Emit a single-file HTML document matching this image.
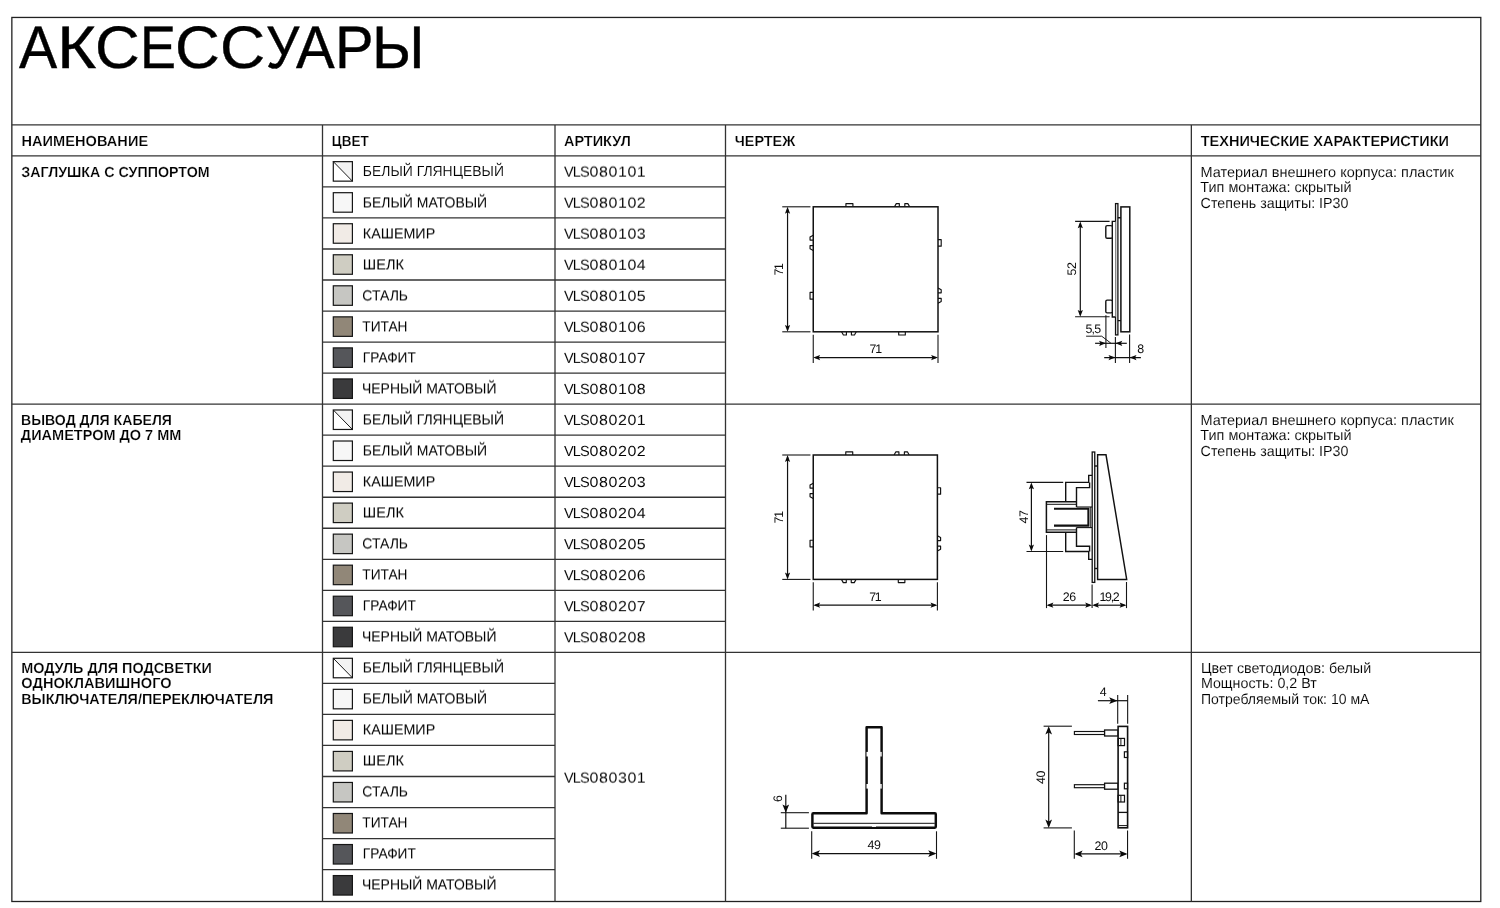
<!DOCTYPE html>
<html lang="ru">
<head>
<meta charset="utf-8">
<title>Аксессуары</title>
<style>
html,body{margin:0;padding:0;background:#fff;}
body{width:1500px;height:908px;position:relative;overflow:hidden;font-family:"Liberation Sans",sans-serif;color:#000;text-rendering:geometricPrecision;}
#page{position:absolute;left:0;top:0;width:1500px;height:908px;will-change:transform;}
#grid{position:absolute;left:0;top:0;width:1500px;height:908px;}
.t{position:absolute;white-space:pre;font-size:14.55px;line-height:16px;margin:0;padding:0;font-weight:normal;transform-origin:0 0;will-change:transform;}
.t{-webkit-text-stroke:0.1px #fff;}
.f{-webkit-text-stroke:0;}
.b{font-weight:bold;-webkit-text-stroke:0.2px #fff;}
h1.t{-webkit-text-stroke:0.4px #000;}
h1.t span,.n{display:inline-block;transform-origin:0 0;}
.art{font-size:14.55px;line-height:16px;letter-spacing:-0.8px;-webkit-text-stroke:0.04px #fff;}
.art span{display:inline-block;margin-left:1px;letter-spacing:0.5px;transform:translateX(-0.4px) scaleX(1.1);transform-origin:0 50%;}
svg text{font-family:"Liberation Sans",sans-serif;fill:#0d0d0d;}
</style>
</head>
<body>
<div id="page">
<svg id="grid" width="1500" height="908" viewBox="0 0 1500 908">
<rect x="11.85" y="17.45" width="1468.95" height="884.05" fill="none" stroke="#222222" stroke-width="1.30"/>
<line x1="11.85" y1="124.90" x2="1480.80" y2="124.90" stroke="#333333" stroke-width="1.30" />
<line x1="11.85" y1="155.90" x2="1480.80" y2="155.90" stroke="#333333" stroke-width="1.30" />
<line x1="322.50" y1="124.90" x2="322.50" y2="901.50" stroke="#333333" stroke-width="1.30" />
<line x1="555.00" y1="124.90" x2="555.00" y2="901.50" stroke="#333333" stroke-width="1.30" />
<line x1="725.50" y1="124.90" x2="725.50" y2="901.50" stroke="#333333" stroke-width="1.30" />
<line x1="1191.35" y1="124.90" x2="1191.35" y2="901.50" stroke="#333333" stroke-width="1.30" />
<line x1="322.50" y1="186.93" x2="725.50" y2="186.93" stroke="#333333" stroke-width="1.30" />
<line x1="322.50" y1="217.96" x2="725.50" y2="217.96" stroke="#333333" stroke-width="1.30" />
<line x1="322.50" y1="248.99" x2="725.50" y2="248.99" stroke="#333333" stroke-width="1.30" />
<line x1="322.50" y1="280.02" x2="725.50" y2="280.02" stroke="#333333" stroke-width="1.30" />
<line x1="322.50" y1="311.05" x2="725.50" y2="311.05" stroke="#333333" stroke-width="1.30" />
<line x1="322.50" y1="342.08" x2="725.50" y2="342.08" stroke="#333333" stroke-width="1.30" />
<line x1="322.50" y1="373.11" x2="725.50" y2="373.11" stroke="#333333" stroke-width="1.30" />
<rect x="333.30" y="161.65" width="19.10" height="19.50" fill="#ffffff" stroke="none" stroke-width="0.00"/>
<path d="M333.30 161.65 L352.40 161.65 L352.40 181.15 Z" fill="#f3f3f3" stroke="none" stroke-width="0.00" />
<line x1="333.30" y1="161.65" x2="352.40" y2="181.15" stroke="#1c1c1c" stroke-width="1.00" />
<rect x="333.30" y="161.65" width="19.10" height="19.50" fill="none" stroke="#161616" stroke-width="1.20"/>
<rect x="333.30" y="192.69" width="19.10" height="19.50" fill="#f7f7f7" stroke="#161616" stroke-width="1.20"/>
<rect x="333.30" y="223.73" width="19.10" height="19.50" fill="#f1ebe6" stroke="#161616" stroke-width="1.20"/>
<rect x="333.30" y="254.77" width="19.10" height="19.50" fill="#cfcdc2" stroke="#161616" stroke-width="1.20"/>
<rect x="333.30" y="285.81" width="19.10" height="19.50" fill="#c6c6c2" stroke="#161616" stroke-width="1.20"/>
<rect x="333.30" y="316.85" width="19.10" height="19.50" fill="#918778" stroke="#161616" stroke-width="1.20"/>
<rect x="333.30" y="347.89" width="19.10" height="19.50" fill="#55565a" stroke="#161616" stroke-width="1.20"/>
<rect x="333.30" y="378.93" width="19.10" height="19.50" fill="#3a3a3c" stroke="#161616" stroke-width="1.20"/>
<line x1="11.85" y1="404.14" x2="1480.80" y2="404.14" stroke="#333333" stroke-width="1.30" />
<line x1="322.50" y1="435.17" x2="725.50" y2="435.17" stroke="#333333" stroke-width="1.30" />
<line x1="322.50" y1="466.20" x2="725.50" y2="466.20" stroke="#333333" stroke-width="1.30" />
<line x1="322.50" y1="497.23" x2="725.50" y2="497.23" stroke="#333333" stroke-width="1.30" />
<line x1="322.50" y1="528.26" x2="725.50" y2="528.26" stroke="#333333" stroke-width="1.30" />
<line x1="322.50" y1="559.29" x2="725.50" y2="559.29" stroke="#333333" stroke-width="1.30" />
<line x1="322.50" y1="590.32" x2="725.50" y2="590.32" stroke="#333333" stroke-width="1.30" />
<line x1="322.50" y1="621.35" x2="725.50" y2="621.35" stroke="#333333" stroke-width="1.30" />
<rect x="333.30" y="409.97" width="19.10" height="19.50" fill="#ffffff" stroke="none" stroke-width="0.00"/>
<path d="M333.30 409.97 L352.40 409.97 L352.40 429.47 Z" fill="#f3f3f3" stroke="none" stroke-width="0.00" />
<line x1="333.30" y1="409.97" x2="352.40" y2="429.47" stroke="#1c1c1c" stroke-width="1.00" />
<rect x="333.30" y="409.97" width="19.10" height="19.50" fill="none" stroke="#161616" stroke-width="1.20"/>
<rect x="333.30" y="441.01" width="19.10" height="19.50" fill="#f7f7f7" stroke="#161616" stroke-width="1.20"/>
<rect x="333.30" y="472.05" width="19.10" height="19.50" fill="#f1ebe6" stroke="#161616" stroke-width="1.20"/>
<rect x="333.30" y="503.09" width="19.10" height="19.50" fill="#cfcdc2" stroke="#161616" stroke-width="1.20"/>
<rect x="333.30" y="534.13" width="19.10" height="19.50" fill="#c6c6c2" stroke="#161616" stroke-width="1.20"/>
<rect x="333.30" y="565.17" width="19.10" height="19.50" fill="#918778" stroke="#161616" stroke-width="1.20"/>
<rect x="333.30" y="596.21" width="19.10" height="19.50" fill="#55565a" stroke="#161616" stroke-width="1.20"/>
<rect x="333.30" y="627.25" width="19.10" height="19.50" fill="#3a3a3c" stroke="#161616" stroke-width="1.20"/>
<line x1="11.85" y1="652.38" x2="1480.80" y2="652.38" stroke="#333333" stroke-width="1.30" />
<line x1="322.50" y1="683.41" x2="555.00" y2="683.41" stroke="#333333" stroke-width="1.30" />
<line x1="322.50" y1="714.44" x2="555.00" y2="714.44" stroke="#333333" stroke-width="1.30" />
<line x1="322.50" y1="745.47" x2="555.00" y2="745.47" stroke="#333333" stroke-width="1.30" />
<line x1="322.50" y1="776.50" x2="555.00" y2="776.50" stroke="#333333" stroke-width="1.30" />
<line x1="322.50" y1="807.53" x2="555.00" y2="807.53" stroke="#333333" stroke-width="1.30" />
<line x1="322.50" y1="838.56" x2="555.00" y2="838.56" stroke="#333333" stroke-width="1.30" />
<line x1="322.50" y1="869.59" x2="555.00" y2="869.59" stroke="#333333" stroke-width="1.30" />
<rect x="333.30" y="658.29" width="19.10" height="19.50" fill="#ffffff" stroke="none" stroke-width="0.00"/>
<path d="M333.30 658.29 L352.40 658.29 L352.40 677.79 Z" fill="#f3f3f3" stroke="none" stroke-width="0.00" />
<line x1="333.30" y1="658.29" x2="352.40" y2="677.79" stroke="#1c1c1c" stroke-width="1.00" />
<rect x="333.30" y="658.29" width="19.10" height="19.50" fill="none" stroke="#161616" stroke-width="1.20"/>
<rect x="333.30" y="689.33" width="19.10" height="19.50" fill="#f7f7f7" stroke="#161616" stroke-width="1.20"/>
<rect x="333.30" y="720.37" width="19.10" height="19.50" fill="#f1ebe6" stroke="#161616" stroke-width="1.20"/>
<rect x="333.30" y="751.41" width="19.10" height="19.50" fill="#cfcdc2" stroke="#161616" stroke-width="1.20"/>
<rect x="333.30" y="782.45" width="19.10" height="19.50" fill="#c6c6c2" stroke="#161616" stroke-width="1.20"/>
<rect x="333.30" y="813.49" width="19.10" height="19.50" fill="#918778" stroke="#161616" stroke-width="1.20"/>
<rect x="333.30" y="844.53" width="19.10" height="19.50" fill="#55565a" stroke="#161616" stroke-width="1.20"/>
<rect x="333.30" y="875.57" width="19.10" height="19.50" fill="#3a3a3c" stroke="#161616" stroke-width="1.20"/>
<path d="M845.93 206.80 L845.93 203.60 L852.92 203.60 L852.92 206.80" fill="#fff" stroke="#111111" stroke-width="1.15" stroke-linejoin="round"/>
<path d="M894.48 206.80 L896.28 203.60 L899.33 203.60 L899.33 206.80" fill="#fff" stroke="#111111" stroke-width="1.15" stroke-linejoin="round"/>
<path d="M904.82 206.80 L904.82 203.60 L907.86 203.60 L909.66 206.80" fill="#fff" stroke="#111111" stroke-width="1.15" stroke-linejoin="round"/>
<path d="M841.59 331.80 L843.39 335.00 L846.43 335.00 L846.43 331.80" fill="#fff" stroke="#111111" stroke-width="1.15" stroke-linejoin="round"/>
<path d="M851.42 331.80 L851.42 335.00 L854.47 335.00 L856.27 331.80" fill="#fff" stroke="#111111" stroke-width="1.15" stroke-linejoin="round"/>
<path d="M898.70 331.80 L898.70 335.00 L905.32 335.00 L905.32 331.80" fill="#fff" stroke="#111111" stroke-width="1.15" stroke-linejoin="round"/>
<path d="M813.25 235.20 L810.05 237.00 L810.05 240.05 L813.25 240.05" fill="#fff" stroke="#111111" stroke-width="1.15" stroke-linejoin="round"/>
<path d="M813.25 245.68 L810.05 245.68 L810.05 248.73 L813.25 250.53" fill="#fff" stroke="#111111" stroke-width="1.15" stroke-linejoin="round"/>
<path d="M813.25 292.43 L810.05 292.43 L810.05 299.05 L813.25 299.05" fill="#fff" stroke="#111111" stroke-width="1.15" stroke-linejoin="round"/>
<path d="M938.00 239.68 L941.20 239.68 L941.20 246.18 L938.00 246.18" fill="#fff" stroke="#111111" stroke-width="1.15" stroke-linejoin="round"/>
<path d="M938.00 287.95 L941.20 289.75 L941.20 292.80 L938.00 292.80" fill="#fff" stroke="#111111" stroke-width="1.15" stroke-linejoin="round"/>
<path d="M938.00 298.43 L941.20 298.43 L941.20 301.48 L938.00 303.28" fill="#fff" stroke="#111111" stroke-width="1.15" stroke-linejoin="round"/>
<rect x="813.25" y="206.80" width="124.75" height="125.00" fill="#fff" stroke="#111111" stroke-width="1.50"/>
<line x1="782.25" y1="206.80" x2="810.45" y2="206.80" stroke="#161616" stroke-width="1.10" />
<line x1="782.25" y1="331.80" x2="810.45" y2="331.80" stroke="#161616" stroke-width="1.10" />
<line x1="787.55" y1="208.80" x2="787.55" y2="329.80" stroke="#111111" stroke-width="1.20" />
<polygon points="787.55,206.80 784.95,213.70 787.55,212.30 790.15,213.70" fill="#0a0a0a"/>
<polygon points="787.55,331.80 784.95,324.90 787.55,326.30 790.15,324.90" fill="#0a0a0a"/>
<line x1="813.25" y1="334.70" x2="813.25" y2="362.90" stroke="#161616" stroke-width="1.10" />
<line x1="938.00" y1="334.70" x2="938.00" y2="362.90" stroke="#161616" stroke-width="1.10" />
<line x1="815.25" y1="357.60" x2="936.00" y2="357.60" stroke="#111111" stroke-width="1.20" />
<polygon points="813.25,357.60 820.15,355.00 818.75,357.60 820.15,360.20" fill="#0a0a0a"/>
<polygon points="938.00,357.60 931.10,355.00 932.50,357.60 931.10,360.20" fill="#0a0a0a"/>
<text x="875.18" y="353.30" font-size="12.40" text-anchor="middle" letter-spacing="-1.30">71</text>
<text x="783.25" y="269.95" font-size="12.40" text-anchor="middle" letter-spacing="-1.30" transform="rotate(-90 783.25 269.95)">71</text>
<path d="M845.78 455.00 L845.78 451.80 L852.73 451.80 L852.73 455.00" fill="#fff" stroke="#111111" stroke-width="1.15" stroke-linejoin="round"/>
<path d="M894.09 455.00 L895.89 451.80 L898.91 451.80 L898.91 455.00" fill="#fff" stroke="#111111" stroke-width="1.15" stroke-linejoin="round"/>
<path d="M904.38 455.00 L904.38 451.80 L907.40 451.80 L909.20 455.00" fill="#fff" stroke="#111111" stroke-width="1.15" stroke-linejoin="round"/>
<path d="M841.45 579.40 L843.25 582.60 L846.27 582.60 L846.27 579.40" fill="#fff" stroke="#111111" stroke-width="1.15" stroke-linejoin="round"/>
<path d="M851.24 579.40 L851.24 582.60 L854.27 582.60 L856.07 579.40" fill="#fff" stroke="#111111" stroke-width="1.15" stroke-linejoin="round"/>
<path d="M898.29 579.40 L898.29 582.60 L904.87 582.60 L904.87 579.40" fill="#fff" stroke="#111111" stroke-width="1.15" stroke-linejoin="round"/>
<path d="M813.25 483.26 L810.05 485.06 L810.05 488.09 L813.25 488.09" fill="#fff" stroke="#111111" stroke-width="1.15" stroke-linejoin="round"/>
<path d="M813.25 493.69 L810.05 493.69 L810.05 496.72 L813.25 498.52" fill="#fff" stroke="#111111" stroke-width="1.15" stroke-linejoin="round"/>
<path d="M813.25 540.21 L810.05 540.21 L810.05 546.81 L813.25 546.81" fill="#fff" stroke="#111111" stroke-width="1.15" stroke-linejoin="round"/>
<path d="M937.40 487.72 L940.60 487.72 L940.60 494.19 L937.40 494.19" fill="#fff" stroke="#111111" stroke-width="1.15" stroke-linejoin="round"/>
<path d="M937.40 535.75 L940.60 537.55 L940.60 540.59 L937.40 540.59" fill="#fff" stroke="#111111" stroke-width="1.15" stroke-linejoin="round"/>
<path d="M937.40 546.19 L940.60 546.19 L940.60 549.22 L937.40 551.02" fill="#fff" stroke="#111111" stroke-width="1.15" stroke-linejoin="round"/>
<rect x="813.25" y="455.00" width="124.15" height="124.40" fill="#fff" stroke="#111111" stroke-width="1.50"/>
<line x1="782.25" y1="455.00" x2="810.45" y2="455.00" stroke="#161616" stroke-width="1.10" />
<line x1="782.25" y1="579.40" x2="810.45" y2="579.40" stroke="#161616" stroke-width="1.10" />
<line x1="787.55" y1="457.00" x2="787.55" y2="577.40" stroke="#111111" stroke-width="1.20" />
<polygon points="787.55,455.00 784.95,461.90 787.55,460.50 790.15,461.90" fill="#0a0a0a"/>
<polygon points="787.55,579.40 784.95,572.50 787.55,573.90 790.15,572.50" fill="#0a0a0a"/>
<line x1="813.25" y1="582.30" x2="813.25" y2="610.50" stroke="#161616" stroke-width="1.10" />
<line x1="937.40" y1="582.30" x2="937.40" y2="610.50" stroke="#161616" stroke-width="1.10" />
<line x1="815.25" y1="605.20" x2="935.40" y2="605.20" stroke="#111111" stroke-width="1.20" />
<polygon points="813.25,605.20 820.15,602.60 818.75,605.20 820.15,607.80" fill="#0a0a0a"/>
<polygon points="937.40,605.20 930.50,602.60 931.90,605.20 930.50,607.80" fill="#0a0a0a"/>
<text x="874.88" y="600.90" font-size="12.40" text-anchor="middle" letter-spacing="-1.30">71</text>
<text x="783.25" y="517.85" font-size="12.40" text-anchor="middle" letter-spacing="-1.30" transform="rotate(-90 783.25 517.85)">71</text>
<rect x="1115.55" y="203.60" width="2.35" height="131.30" fill="#fff" stroke="#111111" stroke-width="1.30"/>
<rect x="1120.90" y="206.90" width="8.90" height="124.90" fill="#fff" stroke="#111111" stroke-width="1.50"/>
<path d="M1117.85 217.8 H1120.9 M1117.85 320.6 H1120.9" fill="none" stroke="#111111" stroke-width="1.40" />
<path d="M1115.5 221.4 H1112.3 V317.0 H1115.5" fill="#fff" stroke="#111111" stroke-width="1.40" />
<rect x="1105.80" y="225.60" width="6.50" height="12.70" fill="#fff" stroke="#111111" stroke-width="1.40" rx="1.30"/>
<rect x="1105.80" y="300.10" width="6.50" height="12.80" fill="#fff" stroke="#111111" stroke-width="1.40" rx="1.30"/>
<line x1="1075.10" y1="221.40" x2="1109.60" y2="221.40" stroke="#161616" stroke-width="1.10" />
<line x1="1075.10" y1="316.80" x2="1109.60" y2="316.80" stroke="#161616" stroke-width="1.10" />
<line x1="1080.30" y1="223.40" x2="1080.30" y2="314.80" stroke="#111111" stroke-width="1.20" />
<polygon points="1080.30,221.40 1077.70,228.30 1080.30,226.90 1082.90,228.30" fill="#0a0a0a"/>
<polygon points="1080.30,316.80 1077.70,309.90 1080.30,311.30 1082.90,309.90" fill="#0a0a0a"/>
<text x="1076.00" y="268.88" font-size="12.40" text-anchor="middle" letter-spacing="-0.35" transform="rotate(-90 1076.00 268.88)">52</text>
<line x1="1105.90" y1="315.20" x2="1105.90" y2="348.10" stroke="#161616" stroke-width="1.10" />
<line x1="1115.40" y1="337.10" x2="1115.40" y2="362.90" stroke="#161616" stroke-width="1.10" />
<line x1="1129.60" y1="334.50" x2="1129.60" y2="362.90" stroke="#161616" stroke-width="1.10" />
<line x1="1095.10" y1="343.30" x2="1126.80" y2="343.30" stroke="#111111" stroke-width="1.20" />
<polygon points="1105.90,343.30 1099.00,340.70 1100.40,343.30 1099.00,345.90" fill="#0a0a0a"/>
<polygon points="1115.40,343.30 1122.30,340.70 1120.90,343.30 1122.30,345.90" fill="#0a0a0a"/>
<path d="M1086.1 336.2 H1101.7 L1110.9 343.2" fill="none" stroke="#111111" stroke-width="0.95" />
<text x="1092.90" y="332.80" font-size="12.40" text-anchor="middle" letter-spacing="-0.80">5,5</text>
<line x1="1104.20" y1="357.60" x2="1140.90" y2="357.60" stroke="#111111" stroke-width="1.20" />
<polygon points="1115.40,357.60 1108.50,355.00 1109.90,357.60 1108.50,360.20" fill="#0a0a0a"/>
<polygon points="1129.60,357.60 1136.50,355.00 1135.10,357.60 1136.50,360.20" fill="#0a0a0a"/>
<text x="1140.42" y="353.30" font-size="12.40" text-anchor="middle" letter-spacing="-0.35">8</text>
<path d="M1092.20 475.40 L1088.70 475.40 L1088.70 482.40 L1065.70 482.40 L1065.70 501.60" fill="none" stroke="#111111" stroke-width="1.40" stroke-linejoin="miter"/>
<path d="M1089.60 482.40 L1089.60 487.60 L1076.50 487.60 L1076.50 507.00" fill="none" stroke="#111111" stroke-width="1.40" stroke-linejoin="miter"/>
<path d="M1092.20 559.40 L1088.70 559.40 L1088.70 551.50 L1065.70 551.50 L1065.70 532.30" fill="none" stroke="#111111" stroke-width="1.40" stroke-linejoin="miter"/>
<path d="M1089.60 551.50 L1089.60 546.30 L1076.50 546.30 L1076.50 527.60" fill="none" stroke="#111111" stroke-width="1.40" stroke-linejoin="miter"/>
<path d="M1076.50 501.70 L1046.40 501.70 L1046.40 532.30 L1076.50 532.30" fill="none" stroke="#111111" stroke-width="1.50" stroke-linejoin="miter"/>
<path d="M1046.40 504.30 L1076.50 504.30" fill="none" stroke="#111111" stroke-width="1.00" stroke-linejoin="miter"/>
<path d="M1046.40 529.90 L1076.50 529.90" fill="none" stroke="#111111" stroke-width="1.00" stroke-linejoin="miter"/>
<path d="M1076.50 507.00 L1092.20 507.00" fill="none" stroke="#111111" stroke-width="1.10" stroke-linejoin="miter"/>
<path d="M1076.50 527.60 L1092.20 527.60" fill="none" stroke="#111111" stroke-width="1.10" stroke-linejoin="miter"/>
<path d="M1054.00 508.70 L1088.40 508.70 L1088.40 525.60 L1054.00 525.60" fill="none" stroke="#111111" stroke-width="2.10" stroke-linejoin="miter"/>
<path d="M1090.70 507.00 L1090.70 527.60" fill="none" stroke="#111111" stroke-width="0.90" stroke-linejoin="miter"/>
<rect x="1092.20" y="452.00" width="2.55" height="130.40" fill="#fff" stroke="#111111" stroke-width="1.30"/>
<path d="M1094.75 466.00 L1097.60 466.00" fill="none" stroke="#111111" stroke-width="1.40" stroke-linejoin="miter"/>
<path d="M1094.75 568.50 L1097.60 568.50" fill="none" stroke="#111111" stroke-width="1.40" stroke-linejoin="miter"/>
<path d="M1097.60 454.80 L1106.00 454.80 L1126.70 579.40 L1097.60 579.40 Z" fill="#fff" stroke="#111111" stroke-width="1.45" stroke-linejoin="miter"/>
<line x1="1026.50" y1="482.40" x2="1063.20" y2="482.40" stroke="#161616" stroke-width="1.10" />
<line x1="1026.50" y1="551.50" x2="1063.20" y2="551.50" stroke="#161616" stroke-width="1.10" />
<line x1="1031.40" y1="484.40" x2="1031.40" y2="549.50" stroke="#111111" stroke-width="1.20" />
<polygon points="1031.40,482.40 1028.80,489.30 1031.40,487.90 1034.00,489.30" fill="#0a0a0a"/>
<polygon points="1031.40,551.50 1028.80,544.60 1031.40,546.00 1034.00,544.60" fill="#0a0a0a"/>
<text x="1027.80" y="516.97" font-size="12.40" text-anchor="middle" letter-spacing="-0.35" transform="rotate(-90 1027.80 516.97)">47</text>
<line x1="1046.50" y1="535.10" x2="1046.50" y2="608.10" stroke="#161616" stroke-width="1.10" />
<line x1="1092.10" y1="584.60" x2="1092.10" y2="608.10" stroke="#161616" stroke-width="1.10" />
<line x1="1126.50" y1="582.00" x2="1126.50" y2="608.10" stroke="#161616" stroke-width="1.10" />
<line x1="1048.50" y1="605.20" x2="1090.10" y2="605.20" stroke="#111111" stroke-width="1.20" />
<polygon points="1046.50,605.20 1053.40,602.60 1052.00,605.20 1053.40,607.80" fill="#0a0a0a"/>
<polygon points="1092.10,605.20 1085.20,602.60 1086.60,605.20 1085.20,607.80" fill="#0a0a0a"/>
<line x1="1094.10" y1="605.20" x2="1124.50" y2="605.20" stroke="#111111" stroke-width="1.20" />
<polygon points="1092.10,605.20 1099.00,602.60 1097.60,605.20 1099.00,607.80" fill="#0a0a0a"/>
<polygon points="1126.50,605.20 1119.60,602.60 1121.00,605.20 1119.60,607.80" fill="#0a0a0a"/>
<text x="1069.33" y="600.90" font-size="12.40" text-anchor="middle" letter-spacing="-0.35">26</text>
<text x="1108.95" y="600.90" font-size="12.40" text-anchor="middle" letter-spacing="-1.30">19,2</text>
<path d="M866.60 727.30 H881.60 V813.30 H934.90 Q935.80 813.30 935.80 814.20 V826.80 Q935.80 827.70 934.90 827.70 H813.30 Q812.40 827.70 812.40 826.80 V814.20 Q812.40 813.30 813.30 813.30 H866.60 Z" fill="#fff" stroke="#0c0c0c" stroke-width="2.45" stroke-linejoin="round"/>
<line x1="813.40" y1="823.30" x2="934.80" y2="823.30" stroke="#111111" stroke-width="1.00" />
<rect x="866.50" y="751.90" width="1.50" height="4.60" fill="#fff" stroke="none" stroke-width="0.00"/>
<rect x="880.20" y="751.90" width="1.50" height="4.60" fill="#fff" stroke="none" stroke-width="0.00"/>
<rect x="866.50" y="784.00" width="1.50" height="4.60" fill="#fff" stroke="none" stroke-width="0.00"/>
<rect x="880.20" y="784.00" width="1.50" height="4.60" fill="#fff" stroke="none" stroke-width="0.00"/>
<rect x="872.00" y="825.60" width="4.00" height="1.30" fill="#fff" stroke="none" stroke-width="0.00"/>
<line x1="780.80" y1="812.70" x2="808.90" y2="812.70" stroke="#161616" stroke-width="1.10" />
<line x1="780.80" y1="828.20" x2="808.90" y2="828.20" stroke="#161616" stroke-width="1.10" />
<line x1="785.80" y1="794.70" x2="785.80" y2="828.20" stroke="#111111" stroke-width="1.20" />
<polygon points="785.80,812.70 782.45,804.40 785.80,806.30 789.15,804.40" fill="#0a0a0a"/>
<text x="781.60" y="798.67" font-size="12.40" text-anchor="middle" letter-spacing="-0.35" transform="rotate(-90 781.60 798.67)">6</text>
<line x1="811.70" y1="831.30" x2="811.70" y2="858.80" stroke="#161616" stroke-width="1.10" />
<line x1="936.50" y1="831.30" x2="936.50" y2="858.80" stroke="#161616" stroke-width="1.10" />
<line x1="813.70" y1="853.60" x2="934.50" y2="853.60" stroke="#111111" stroke-width="1.20" />
<polygon points="811.70,853.60 820.00,850.25 818.10,853.60 820.00,856.95" fill="#0a0a0a"/>
<polygon points="936.50,853.60 928.20,850.25 930.10,853.60 928.20,856.95" fill="#0a0a0a"/>
<text x="874.03" y="849.10" font-size="12.40" text-anchor="middle" letter-spacing="-0.35">49</text>
<rect x="1074.40" y="731.50" width="30.20" height="3.00" fill="#fff" stroke="#111111" stroke-width="1.15"/>
<rect x="1104.60" y="730.00" width="13.50" height="6.00" fill="#fff" stroke="#111111" stroke-width="1.30"/>
<rect x="1074.40" y="784.70" width="30.20" height="3.00" fill="#fff" stroke="#111111" stroke-width="1.15"/>
<rect x="1104.60" y="783.20" width="13.50" height="6.00" fill="#fff" stroke="#111111" stroke-width="1.30"/>
<rect x="1118.10" y="726.40" width="9.50" height="101.40" fill="#fff" stroke="#111111" stroke-width="1.60"/>
<rect x="1118.10" y="738.40" width="6.40" height="7.20" fill="none" stroke="#111111" stroke-width="1.20"/>
<line x1="1120.90" y1="738.40" x2="1120.90" y2="745.60" stroke="#111111" stroke-width="1.00" />
<rect x="1118.10" y="795.30" width="6.40" height="6.70" fill="none" stroke="#111111" stroke-width="1.20"/>
<line x1="1120.90" y1="795.30" x2="1120.90" y2="802.00" stroke="#111111" stroke-width="1.00" />
<rect x="1124.40" y="751.80" width="3.20" height="5.70" fill="none" stroke="#111111" stroke-width="1.20"/>
<rect x="1124.40" y="783.20" width="3.20" height="5.60" fill="none" stroke="#111111" stroke-width="1.20"/>
<line x1="1118.10" y1="812.40" x2="1127.60" y2="812.40" stroke="#111111" stroke-width="1.30" />
<line x1="1118.10" y1="825.60" x2="1127.60" y2="825.60" stroke="#111111" stroke-width="1.00" />
<line x1="1043.60" y1="726.20" x2="1071.90" y2="726.20" stroke="#161616" stroke-width="1.10" />
<line x1="1043.60" y1="827.90" x2="1071.90" y2="827.90" stroke="#161616" stroke-width="1.10" />
<line x1="1048.70" y1="728.20" x2="1048.70" y2="825.90" stroke="#111111" stroke-width="1.20" />
<polygon points="1048.70,726.20 1045.35,734.50 1048.70,732.60 1052.05,734.50" fill="#0a0a0a"/>
<polygon points="1048.70,827.90 1045.35,819.60 1048.70,821.50 1052.05,819.60" fill="#0a0a0a"/>
<text x="1044.90" y="777.47" font-size="12.40" text-anchor="middle" letter-spacing="-0.35" transform="rotate(-90 1044.90 777.47)">40</text>
<line x1="1117.70" y1="695.10" x2="1117.70" y2="723.80" stroke="#161616" stroke-width="1.10" />
<line x1="1127.65" y1="695.10" x2="1127.65" y2="723.80" stroke="#161616" stroke-width="1.10" />
<line x1="1097.90" y1="700.70" x2="1127.65" y2="700.70" stroke="#111111" stroke-width="1.20" />
<polygon points="1117.50,700.70 1109.20,697.35 1111.10,700.70 1109.20,704.05" fill="#0a0a0a"/>
<text x="1103.03" y="696.40" font-size="12.40" text-anchor="middle" letter-spacing="-0.35">4</text>
<line x1="1074.30" y1="830.60" x2="1074.30" y2="858.70" stroke="#161616" stroke-width="1.10" />
<line x1="1127.55" y1="830.60" x2="1127.55" y2="858.70" stroke="#161616" stroke-width="1.10" />
<line x1="1076.30" y1="853.90" x2="1125.55" y2="853.90" stroke="#111111" stroke-width="1.20" />
<polygon points="1074.30,853.90 1082.60,850.55 1080.70,853.90 1082.60,857.25" fill="#0a0a0a"/>
<polygon points="1127.55,853.90 1119.25,850.55 1121.15,853.90 1119.25,857.25" fill="#0a0a0a"/>
<text x="1101.12" y="849.50" font-size="12.40" text-anchor="middle" letter-spacing="-0.35">20</text>
</svg>
<h1 id="title" class="t" style="left:19.26px;top:14px;font-size:60.0px;line-height:67px;"><span style="margin-left:0.00px;transform:scaleX(0.954)">А</span><span style="margin-left:-1.83px;transform:scaleX(1.123)">К</span><span style="margin-left:3.18px;transform:scaleX(1.032)">С</span><span style="margin-left:1.39px;transform:scaleX(0.898)">Е</span><span style="margin-left:-4.77px;transform:scaleX(1.034)">С</span><span style="margin-left:1.83px;transform:scaleX(1.042)">С</span><span style="margin-left:2.25px;transform:scaleX(0.874)">У</span><span style="margin-left:-8.24px;transform:scaleX(0.967)">А</span><span style="margin-left:-0.67px;transform:scaleX(0.964)">Р</span><span style="margin-left:-3.45px;transform:scaleX(0.989)">Ы</span></h1>
<div id="t0" class="t b" style="left:21px;top:134px;padding-left:0.45px;transform:translate(0,0.00px) scaleX(0.9999);letter-spacing:0.059px;">НАИМЕНОВАНИЕ</div>
<div id="t1" class="t b" style="left:331px;top:134px;transform:translate(0,0.00px) scaleX(0.9999);"><span class="n" style="transform:translateX(0.85px) scaleX(0.9290)">ЦВЕТ</span></div>
<div id="t2" class="t b" style="left:564px;top:134px;transform:translate(0,0.00px) scaleX(0.9999);"><span class="n" style="transform:translateX(0.00px) scaleX(0.9924)">АРТИКУЛ</span></div>
<div id="t3" class="t b" style="left:734px;top:134px;transform:translate(0,0.00px) scaleX(0.9999);"><span class="n" style="transform:translateX(0.70px) scaleX(0.9892)">ЧЕРТЕЖ</span></div>
<div id="t4" class="t b" style="left:1200px;top:134px;transform:translate(0,0.00px) scaleX(0.9999);"><span class="n" style="transform:translateX(0.70px) scaleX(0.9982)">ТЕХНИЧЕСКИЕ ХАРАКТЕРИСТИКИ</span></div>
<div id="t5" class="t b" style="left:21px;top:165px;transform:translate(0,0.00px) scaleX(0.9999);"><span class="n" style="transform:translateX(0.30px) scaleX(0.9786)">ЗАГЛУШКА С СУППОРТОМ</span></div>
<div id="t6" class="t" style="left:362px;top:164px;transform:translate(0,0.00px) scaleX(0.9999);"><span class="n" style="transform:translateX(0.85px) scaleX(0.9577)">БЕЛЫЙ ГЛЯНЦЕВЫЙ</span></div>
<div id="t7" class="t f" style="left:362px;top:195px;transform:translate(0,0.40px) scaleX(0.9999);"><span class="n" style="transform:translateX(0.85px) scaleX(0.9599)">БЕЛЫЙ МАТОВЫЙ</span></div>
<div id="t8" class="t f" style="left:362px;top:226px;transform:translate(0,0.40px) scaleX(0.9999);"><span class="n" style="transform:translateX(0.85px) scaleX(0.9847)">КАШЕМИР</span></div>
<div id="t9" class="t f" style="left:362px;top:257px;padding-left:0.85px;transform:translate(0,0.40px) scaleX(0.9999);">ШЕЛК</div>
<div id="t10" class="t f" style="left:362px;top:288px;transform:translate(0,0.40px) scaleX(0.9999);"><span class="n" style="transform:translateX(0.25px) scaleX(0.9630)">СТАЛЬ</span></div>
<div id="t11" class="t f" style="left:362px;top:319px;transform:translate(0,0.40px) scaleX(0.9999);"><span class="n" style="transform:translateX(0.30px) scaleX(0.9433)">ТИТАН</span></div>
<div id="t12" class="t f" style="left:362px;top:350px;transform:translate(0,0.40px) scaleX(0.9999);"><span class="n" style="transform:translateX(0.85px) scaleX(0.9427)">ГРАФИТ</span></div>
<div id="t13" class="t f" style="left:362px;top:381px;transform:translate(0,0.40px) scaleX(0.9999);"><span class="n" style="transform:translateX(0.00px) scaleX(0.9588)">ЧЕРНЫЙ МАТОВЫЙ</span></div>
<div id="t14" class="t" style="left:1200px;top:165px;transform:translate(0,0.00px) scaleX(0.9999);"><span class="n" style="transform:translateX(0.50px) scaleX(0.9959)">Материал внешнего корпуса: пластик</span></div>
<div id="t15" class="t" style="left:1200px;top:180px;transform:translate(0,0.00px) scaleX(0.9999);"><span class="n" style="transform:translateX(0.30px) scaleX(0.9927)">Тип монтажа: скрытый</span></div>
<div id="t16" class="t" style="left:1200px;top:196px;transform:translate(0,0.00px) scaleX(0.9999);"><span class="n" style="transform:translateX(0.60px) scaleX(0.9809)">Степень защиты: IP30</span></div>
<div id="t17" class="t b" style="left:21px;top:413px;transform:translate(0,0.00px) scaleX(0.9999);"><span class="n" style="transform:translateX(0.05px) scaleX(0.9692)">ВЫВОД ДЛЯ КАБЕЛЯ</span></div>
<div id="t18" class="t b" style="left:20px;top:428px;transform:translate(0,0.00px) scaleX(0.9999);"><span class="n" style="transform:translateX(0.85px) scaleX(0.9963)">ДИАМЕТРОМ ДО 7 ММ</span></div>
<div id="t19" class="t f" style="left:362px;top:412px;transform:translate(0,0.40px) scaleX(0.9999);"><span class="n" style="transform:translateX(0.85px) scaleX(0.9577)">БЕЛЫЙ ГЛЯНЦЕВЫЙ</span></div>
<div id="t20" class="t f" style="left:362px;top:443px;transform:translate(0,0.40px) scaleX(0.9999);"><span class="n" style="transform:translateX(0.85px) scaleX(0.9599)">БЕЛЫЙ МАТОВЫЙ</span></div>
<div id="t21" class="t f" style="left:362px;top:474px;transform:translate(0,0.40px) scaleX(0.9999);"><span class="n" style="transform:translateX(0.85px) scaleX(0.9847)">КАШЕМИР</span></div>
<div id="t22" class="t f" style="left:362px;top:505px;padding-left:0.85px;transform:translate(0,0.40px) scaleX(0.9999);">ШЕЛК</div>
<div id="t23" class="t f" style="left:362px;top:536px;transform:translate(0,0.40px) scaleX(0.9999);"><span class="n" style="transform:translateX(0.25px) scaleX(0.9630)">СТАЛЬ</span></div>
<div id="t24" class="t f" style="left:362px;top:567px;transform:translate(0,0.40px) scaleX(0.9999);"><span class="n" style="transform:translateX(0.30px) scaleX(0.9433)">ТИТАН</span></div>
<div id="t25" class="t f" style="left:362px;top:598px;transform:translate(0,0.40px) scaleX(0.9999);"><span class="n" style="transform:translateX(0.85px) scaleX(0.9427)">ГРАФИТ</span></div>
<div id="t26" class="t f" style="left:362px;top:629px;transform:translate(0,0.40px) scaleX(0.9999);"><span class="n" style="transform:translateX(0.00px) scaleX(0.9588)">ЧЕРНЫЙ МАТОВЫЙ</span></div>
<div id="t27" class="t" style="left:1200px;top:413px;transform:translate(0,0.00px) scaleX(0.9999);"><span class="n" style="transform:translateX(0.50px) scaleX(0.9959)">Материал внешнего корпуса: пластик</span></div>
<div id="t28" class="t" style="left:1200px;top:428px;transform:translate(0,0.00px) scaleX(0.9999);"><span class="n" style="transform:translateX(0.30px) scaleX(0.9927)">Тип монтажа: скрытый</span></div>
<div id="t29" class="t" style="left:1200px;top:444px;transform:translate(0,0.00px) scaleX(0.9999);"><span class="n" style="transform:translateX(0.60px) scaleX(0.9809)">Степень защиты: IP30</span></div>
<div id="t30" class="t b" style="left:21px;top:661px;transform:translate(0,0.00px) scaleX(0.9999);"><span class="n" style="transform:translateX(0.15px) scaleX(0.9890)">МОДУЛЬ ДЛЯ ПОДСВЕТКИ</span></div>
<div id="t31" class="t b" style="left:21px;top:676px;padding-left:0.30px;transform:translate(0,0.00px) scaleX(0.9999);letter-spacing:0.046px;">ОДНОКЛАВИШНОГО</div>
<div id="t32" class="t b" style="left:21px;top:692px;transform:translate(0,0.00px) scaleX(0.9999);"><span class="n" style="transform:translateX(0.15px) scaleX(0.9905)">ВЫКЛЮЧАТЕЛЯ/ПЕРЕКЛЮЧАТЕЛЯ</span></div>
<div id="t33" class="t f" style="left:362px;top:660px;transform:translate(0,0.40px) scaleX(0.9999);"><span class="n" style="transform:translateX(0.85px) scaleX(0.9577)">БЕЛЫЙ ГЛЯНЦЕВЫЙ</span></div>
<div id="t34" class="t f" style="left:362px;top:691px;transform:translate(0,0.40px) scaleX(0.9999);"><span class="n" style="transform:translateX(0.85px) scaleX(0.9599)">БЕЛЫЙ МАТОВЫЙ</span></div>
<div id="t35" class="t f" style="left:362px;top:722px;transform:translate(0,0.40px) scaleX(0.9999);"><span class="n" style="transform:translateX(0.85px) scaleX(0.9847)">КАШЕМИР</span></div>
<div id="t36" class="t f" style="left:362px;top:753px;padding-left:0.85px;transform:translate(0,0.40px) scaleX(0.9999);">ШЕЛК</div>
<div id="t37" class="t f" style="left:362px;top:784px;transform:translate(0,0.40px) scaleX(0.9999);"><span class="n" style="transform:translateX(0.25px) scaleX(0.9630)">СТАЛЬ</span></div>
<div id="t38" class="t f" style="left:362px;top:815px;transform:translate(0,0.40px) scaleX(0.9999);"><span class="n" style="transform:translateX(0.30px) scaleX(0.9433)">ТИТАН</span></div>
<div id="t39" class="t f" style="left:362px;top:846px;transform:translate(0,0.40px) scaleX(0.9999);"><span class="n" style="transform:translateX(0.85px) scaleX(0.9427)">ГРАФИТ</span></div>
<div id="t40" class="t f" style="left:362px;top:877px;transform:translate(0,0.40px) scaleX(0.9999);"><span class="n" style="transform:translateX(0.00px) scaleX(0.9588)">ЧЕРНЫЙ МАТОВЫЙ</span></div>
<div id="t41" class="t" style="left:1200px;top:661px;transform:translate(0,0.00px) scaleX(0.9999);"><span class="n" style="transform:translateX(0.90px) scaleX(0.9842)">Цвет светодиодов: белый</span></div>
<div id="t42" class="t" style="left:1200px;top:676px;transform:translate(0,0.00px) scaleX(0.9999);"><span class="n" style="transform:translateX(0.90px) scaleX(0.9803)">Мощность: 0,2 Вт</span></div>
<div id="t43" class="t" style="left:1200px;top:692px;transform:translate(0,0.00px) scaleX(0.9999);"><span class="n" style="transform:translateX(0.90px) scaleX(0.9651)">Потребляемый ток: 10 мА</span></div>
<div id="a0" class="t art" style="left:563px;top:164px;padding-left:0.9px;transform:translate(0,0.60px) scaleX(0.9999);">VLS<span>080101</span></div>
<div id="a1" class="t art" style="left:563px;top:195px;padding-left:0.9px;transform:translate(0,0.64px) scaleX(0.9999);">VLS<span>080102</span></div>
<div id="a2" class="t art" style="left:563px;top:226px;padding-left:0.9px;transform:translate(0,0.68px) scaleX(0.9999);">VLS<span>080103</span></div>
<div id="a3" class="t art" style="left:563px;top:257px;padding-left:0.9px;transform:translate(0,0.72px) scaleX(0.9999);">VLS<span>080104</span></div>
<div id="a4" class="t art" style="left:563px;top:288px;padding-left:0.9px;transform:translate(0,0.76px) scaleX(0.9999);">VLS<span>080105</span></div>
<div id="a5" class="t art" style="left:563px;top:319px;padding-left:0.9px;transform:translate(0,0.80px) scaleX(0.9999);">VLS<span>080106</span></div>
<div id="a6" class="t art" style="left:563px;top:350px;padding-left:0.9px;transform:translate(0,0.84px) scaleX(0.9999);">VLS<span>080107</span></div>
<div id="a7" class="t art" style="left:563px;top:381px;padding-left:0.9px;transform:translate(0,0.88px) scaleX(0.9999);">VLS<span>080108</span></div>
<div id="a8" class="t art" style="left:563px;top:412px;padding-left:0.9px;transform:translate(0,0.92px) scaleX(0.9999);">VLS<span>080201</span></div>
<div id="a9" class="t art" style="left:563px;top:443px;padding-left:0.9px;transform:translate(0,0.96px) scaleX(0.9999);">VLS<span>080202</span></div>
<div id="a10" class="t art" style="left:563px;top:475px;padding-left:0.9px;transform:translate(0,0.00px) scaleX(0.9999);">VLS<span>080203</span></div>
<div id="a11" class="t art" style="left:563px;top:506px;padding-left:0.9px;transform:translate(0,0.04px) scaleX(0.9999);">VLS<span>080204</span></div>
<div id="a12" class="t art" style="left:563px;top:537px;padding-left:0.9px;transform:translate(0,0.08px) scaleX(0.9999);">VLS<span>080205</span></div>
<div id="a13" class="t art" style="left:563px;top:568px;padding-left:0.9px;transform:translate(0,0.12px) scaleX(0.9999);">VLS<span>080206</span></div>
<div id="a14" class="t art" style="left:563px;top:599px;padding-left:0.9px;transform:translate(0,0.16px) scaleX(0.9999);">VLS<span>080207</span></div>
<div id="a15" class="t art" style="left:563px;top:630px;padding-left:0.9px;transform:translate(0,0.20px) scaleX(0.9999);">VLS<span>080208</span></div>
<div id="a16" class="t art" style="left:563px;top:770px;padding-left:0.9px;transform:translate(0,0.60px) scaleX(0.9999);">VLS<span>080301</span></div>
</div>
</body>
</html>
